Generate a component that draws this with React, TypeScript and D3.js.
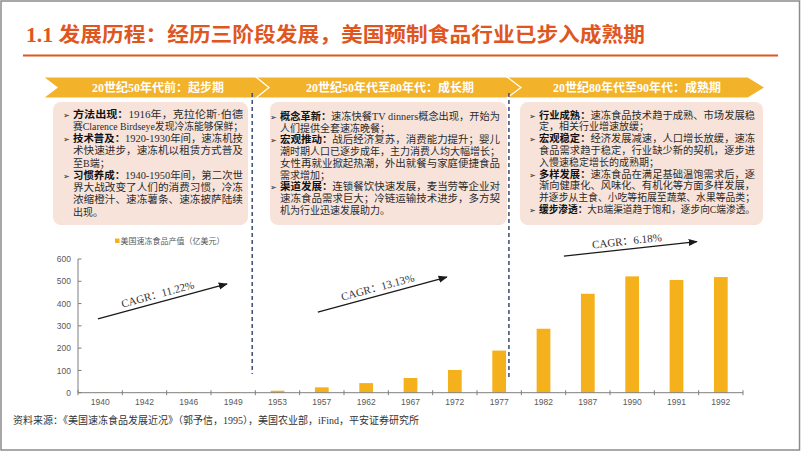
import React from 'react';
import * as d3 from 'd3';

// ---------- data ----------
const years = ['1940', '1942', '1946', '1949', '1953', '1957', '1962', '1967', '1972', '1977', '1982', '1987', '1990', '1991', '1992'];
const values = [1, 1, 2, 2, 9, 24, 43, 66, 102, 189, 287, 444, 522, 506, 519];
const yTicks = [0, 100, 200, 300, 400, 500, 600];
const seriesName = '美国速冻食品产值（亿美元）';
const titleText = '1.1 发展历程：经历三阶段发展，美国预制食品行业已步入成熟期';
const sourceText = '资料来源：《美国速冻食品发展近况》（郭予信，1995），美国农业部，iFind，平安证券研究所';
const stageTitles = ['20世纪50年代前：起步期', '20世纪50年代至80年代：成长期', '20世纪80年代至90年代：成熟期'];
const cagrLabels = ['CAGR：11.22%', 'CAGR：13.13%', 'CAGR：6.18%'];
// arrow endpoints in data space: [category index, value]
const cagrFrom = [[-0.05, 331], [4.91, 362], [10.46, 613]];
const cagrTo = [[2.86, 488], [7.82, 519], [13.46, 678]];
const dividerIdx = [3.43, 9.22];

type Line = { t: string; full: boolean };
const stage1Lines: Line[] = [
  { t: '➢方法出现：|1916年，克拉伦斯·伯德', full: true },
  { t: '赛Clarence  Birdseye发现冷冻能够保鲜；', full: true },
  { t: '➢技术普及：|1920-1930年间，速冻机技', full: true },
  { t: '术快速进步，速冻机以租赁方式普及', full: true },
  { t: '至B端；', full: false },
  { t: '➢习惯养成：|1940-1950年间，第二次世', full: true },
  { t: '界大战改变了人们的消费习惯，冷冻', full: true },
  { t: '浓缩橙汁、速冻薯条、速冻披萨陆续', full: true },
  { t: '出现。', full: false },
];
const stage2Lines: Line[] = [
  { t: '➢概念革新：|速冻快餐TV dinners概念出现，开始为', full: true },
  { t: '人们提供全套速冻晚餐；', full: false },
  { t: '➢宏观推动：|战后经济复苏，消费能力提升；婴儿', full: true },
  { t: '潮时期人口已逐步成年，主力消费人均大幅增长；', full: true },
  { t: '女性再就业掀起热潮，外出就餐与家庭便捷食品', full: true },
  { t: '需求增加；', full: false },
  { t: '➢渠道发展：|连锁餐饮快速发展，麦当劳等企业对', full: true },
  { t: '速冻食品需求巨大；冷链运输技术进步，多方契', full: true },
  { t: '机为行业迅速发展助力。', full: false },
];
const stage3Lines: Line[] = [
  { t: '➢行业成熟：|速冻食品技术趋于成熟、市场发展稳', full: true },
  { t: '定，相关行业增速放缓；', full: false },
  { t: '➢宏观稳定：|经济发展减速，人口增长放缓，速冻', full: true },
  { t: '食品需求趋于稳定，行业缺少新的契机，逐步进', full: true },
  { t: '入慢速稳定增长的成熟期；', full: false },
  { t: '➢多样发展：|速冻食品在满足基础温饱需求后，逐', full: true },
  { t: '渐向健康化、风味化、有机化等方面多样发展，', full: true },
  { t: '并逐步从主食、小吃等拓展至蔬菜、水果等品类；', full: true },
  { t: '➢缓步渗透：|大B端渠道趋于饱和，逐步向C端渗透。', full: true },
];
const stageLines = [stage1Lines, stage2Lines, stage3Lines];

// ---------- layout / style ----------
const W = 802;
const H = 451;
const ORANGE = '#E0561F';
const GOLD = '#F2B22A';
const BAR = '#F5B11B';
const BOX = '#F7E3DA';
const DASH = '#44567A';
const SERIF = "'Liberation Serif', 'Noto Sans CJK SC', serif";
const SANS = "'Liberation Sans', 'Noto Sans CJK SC', sans-serif";

const boxes = [
  { x: 53, w: 195, tx: 73, tr: 243, y0: 117.5, dy: 12.25 },
  { x: 270, w: 237, tx: 280, tr: 500, y0: 120, dy: 11.7 },
  { x: 520, w: 243, tx: 539, tr: 755, y0: 118.5, dy: 11.8 },
];
const boxTop = 102;
const boxBottom = 225;

const hdrTop = 77;
const hdrBot = 98;
const hdrSegs = [
  { l: 43, r: 258, ld: 14, rd: 13, cx: 158 },
  { l: 256, r: 508, ld: 13, rd: 14, cx: 390 },
  { l: 507, r: 748, ld: 14, rd: 17, cx: 637 },
];

const plotL = 78;
const plotR = 743;
const plotTop = 259;
const plotBot = 392.7;

export default function App() {
  const x = d3.scaleBand<string>().domain(years).range([plotL, plotR]).paddingInner(0.69).paddingOuter(0.345);
  const y = d3.scaleLinear().domain([0, 600]).range([plotBot, plotTop]);
  const step = x.step();
  const xi = (i: number) => plotL + step * (i + 0.5);
  const mid = (hdrTop + hdrBot) / 2;

  return (
    <svg width={W} height={H} style={{ position: 'absolute', left: 0, top: 0, background: '#fff' }}>
      <defs>
        <marker id="ah" viewBox="0 0 10 10" refX="9" refY="5" markerWidth="7" markerHeight="7" orient="auto">
          <path d="M0,1 L10,5 L0,9 z" fill="#1a1a1a" />
        </marker>
      </defs>
      <rect x={0} y={0} width={W} height={H} fill="#fff" />
      <rect x={1} y={1} width={798.5} height={449} fill="none" stroke="#8c8c8c" strokeWidth={1.5} />

      {/* title */}
      <text x={26} y={42} fontFamily={SERIF} fontSize={20} fontWeight={700} fill={ORANGE}
        textLength={619} lengthAdjust="spacingAndGlyphs">{titleText}</text>
      <line x1={23} x2={778} y1={55.5} y2={55.5} stroke={ORANGE} strokeWidth={2} />

      {/* headers */}
      {hdrSegs.map((s, i) => (
        <g key={'h' + i}>
          <polygon
            points={`${s.l},${hdrTop} ${s.r},${hdrTop} ${s.r + s.rd},${mid} ${s.r},${hdrBot} ${s.l},${hdrBot} ${s.l + s.ld},${mid}`}
            fill={GOLD} stroke="#fff" strokeWidth={1.2} />
          <text x={s.cx} y={mid + 4.2} textAnchor="middle" fontFamily={SERIF} fontSize={12} fontWeight={700} fill="#fff">
            {stageTitles[i]}
          </text>
        </g>
      ))}

      {/* boxes */}
      {boxes.map((b, i) => (
        <g key={'b' + i}>
          <rect x={b.x} y={boxTop} width={b.w} height={boxBottom - boxTop} rx={8} ry={8} fill={BOX} />
          {stageLines[i].map((ln, j) => {
            const yy = b.y0 + j * b.dy;
            const isBullet = ln.t.startsWith('➢');
            let label = '';
            let rest = ln.t;
            if (isBullet) {
              const parts = ln.t.slice(1).split('|');
              label = parts[0];
              rest = parts[1];
            }
            const tl = ln.full ? { textLength: b.tr - b.tx, lengthAdjust: 'spacingAndGlyphs' } : {};
            return (
              <g key={j}>
                {isBullet && (
                  <text x={b.tx - 10} y={yy} fontFamily="'DejaVu Sans', sans-serif" fontSize={8} fill="#222">➢</text>
                )}
                <text x={b.tx} y={yy} fontFamily={SERIF} fontSize={10} fill="#2b2b2b" {...(tl as any)}>
                  {label && <tspan fontWeight={700} fill="#111">{label}</tspan>}
                  {rest}
                </text>
              </g>
            );
          })}
        </g>
      ))}

      {/* dashed dividers */}
      {dividerIdx.map((d, i) => (
        <line key={'d' + i} x1={xi(d)} x2={xi(d)} y1={93} y2={i === 0 ? 374 : 380}
          stroke={DASH} strokeWidth={1.6} strokeDasharray="4,3" />
      ))}

      {/* legend */}
      <rect x={115} y={238.5} width={4.5} height={4.5} fill={BAR} />
      <text x={120.5} y={244} fontFamily={SANS} fontSize={8} fill="#595959">{seriesName}</text>

      {/* bars */}
      {years.map((yr, i) => (
        <rect key={yr} x={x(yr)!} y={y(values[i])} width={x.bandwidth()} height={plotBot - y(values[i])} fill={BAR} />
      ))}

      {/* y axis */}
      <line x1={plotL} x2={plotL} y1={plotTop} y2={plotBot} stroke="#7f7f7f" strokeWidth={1} />
      {yTicks.map((t) => (
        <g key={'yt' + t}>
          <line x1={plotL} x2={plotL + 3.5} y1={y(t)} y2={y(t)} stroke="#7f7f7f" strokeWidth={1} />
          <text x={71} y={y(t) + 3.2} textAnchor="end" fontFamily={SANS} fontSize={8.5} fill="#595959">{t}</text>
        </g>
      ))}

      {/* x axis */}
      <line x1={plotL} x2={plotR} y1={plotBot} y2={plotBot} stroke="#7f7f7f" strokeWidth={1} />
      {d3.range(years.length + 1).map((k) => (
        <line key={'xt' + k} x1={plotL + k * step} x2={plotL + k * step} y1={plotBot - 2.5} y2={plotBot + 2.5} stroke="#7f7f7f" strokeWidth={1} />
      ))}
      {years.map((yr) => (
        <text key={'xl' + yr} x={x(yr)! + x.bandwidth() / 2} y={405} textAnchor="middle" fontFamily={SANS} fontSize={8.5} fill="#595959">{yr}</text>
      ))}

      {/* CAGR arrows */}
      {cagrLabels.map((lab, i) => {
        const x1 = xi(cagrFrom[i][0]);
        const y1 = y(cagrFrom[i][1]);
        const x2 = xi(cagrTo[i][0]);
        const y2 = y(cagrTo[i][1]);
        const ang = (Math.atan2(y2 - y1, x2 - x1) * 180) / Math.PI;
        const mx = x1 + (x2 - x1) * 0.48;
        const my = y1 + (y2 - y1) * 0.48;
        return (
          <g key={'c' + i}>
            <line x1={x1} y1={y1} x2={x2} y2={y2} stroke="#1a1a1a" strokeWidth={1.3} markerEnd="url(#ah)" />
            <g transform={`translate(${mx},${my}) rotate(${ang})`}>
              <text x={0} y={-4.5} textAnchor="middle" fontFamily={SERIF} fontSize={11} fill="#333">{lab}</text>
            </g>
          </g>
        );
      })}

      {/* source */}
      <text x={13} y={423.5} fontFamily={SERIF} fontSize={10} fill="#333">{sourceText}</text>
    </svg>
  );
}
